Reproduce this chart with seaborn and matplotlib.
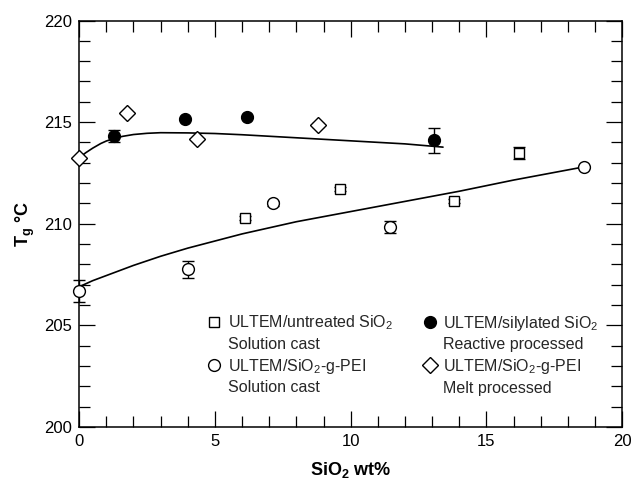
import numpy as np
import pandas as pd
import matplotlib
matplotlib.use("Agg")
import matplotlib.pyplot as plt
import matplotlib.ticker as ticker
from matplotlib.legend_handler import HandlerLine2D
from matplotlib.transforms import Affine2D
import seaborn as sns

sns.set_theme(style="ticks")
plt.rcParams["font.family"] = ["Liberation Sans", "DejaVu Sans"]
plt.rcParams["mathtext.fontset"] = "custom"
plt.rcParams["mathtext.rm"] = "Liberation Sans"
plt.rcParams["mathtext.bf"] = "Liberation Sans:bold"
plt.rcParams["mathtext.default"] = "regular"

# ULTEM / untreated SiO2, solution cast
untreated_x = [6.1, 9.6, 13.8, 16.2]
untreated_y = [210.3, 211.7, 211.1, 213.5]
untreated_err = [0.1, 0.1, 0.1, 0.3]

# ULTEM / SiO2-g-PEI, solution cast
gpei_sol_x = [0.0, 4.0, 7.15, 11.45, 18.6]
gpei_sol_y = [206.7, 207.75, 211.0, 209.85, 212.8]
gpei_sol_err = [0.55, 0.4, 0.12, 0.3, 0.05]

# ULTEM / silylated SiO2, reactive processed
silyl_x = [1.3, 3.9, 6.2, 13.05]
silyl_y = [214.3, 215.15, 215.25, 214.1]
silyl_err = [0.3, 0.05, 0.05, 0.6]

# ULTEM / SiO2-g-PEI, melt processed
gpei_melt_x = [0.0, 1.75, 4.35, 8.8]
gpei_melt_y = [213.25, 215.45, 214.15, 214.85]
gpei_melt_err = [0.05, 0.05, 0.05, 0.1]

# trend curves
upper_fit_x = [0, 0.25, 0.5, 0.8, 1.0, 1.3, 1.6, 2, 2.5, 3, 4, 5, 6, 8, 10, 12, 13.4]
upper_fit_y = [213.25, 213.5, 213.72, 213.95, 214.07, 214.2, 214.3, 214.39,
               214.45, 214.48, 214.47, 214.44, 214.38, 214.23, 214.08, 213.93, 213.77]
lower_fit_x = [0, 0.5, 1, 1.5, 2, 3, 4, 5, 6, 7, 8, 9, 10, 12, 14, 16, 18.6]
lower_fit_y = [206.9, 207.2, 207.45, 207.7, 207.95, 208.4, 208.8, 209.15,
               209.5, 209.8, 210.1, 210.35, 210.6, 211.1, 211.6, 212.15, 212.8]


class FirstLineHandler(HandlerLine2D):
    # put the legend marker level with the first line of a two-line label
    def create_artists(self, legend, orig_handle, xdescent, ydescent,
                       width, height, fontsize, trans):
        shift = Affine2D().translate(0, 0.72 * fontsize)
        return super().create_artists(legend, orig_handle, xdescent, ydescent,
                                      width, height, fontsize, shift + trans)


fig = plt.figure(figsize=(6.33, 4.86), dpi=100)
ax = fig.add_axes([0.125, 0.1214, 0.858, 0.8364])

fits = pd.concat([
    pd.DataFrame({"x": upper_fit_x, "y": upper_fit_y, "fit": "upper"}),
    pd.DataFrame({"x": lower_fit_x, "y": lower_fit_y, "fit": "lower"}),
])
sns.lineplot(data=fits, x="x", y="y", units="fit", estimator=None,
             color="black", linewidth=1.2, ax=ax, zorder=2, sort=False)

common = dict(color="black", ecolor="black", elinewidth=1.0, capsize=4.3,
              capthick=1.0, linestyle="none", markeredgewidth=1.0, zorder=3,
              clip_on=False)
h1 = ax.errorbar(untreated_x, untreated_y, yerr=untreated_err, fmt="s",
                 markersize=7.5, markerfacecolor="white", **common)
h2 = ax.errorbar(gpei_sol_x, gpei_sol_y, yerr=gpei_sol_err, fmt="o",
                 markersize=8.5, markerfacecolor="white", **common)
h3 = ax.errorbar(silyl_x, silyl_y, yerr=silyl_err, fmt="o",
                 markersize=8.5, markerfacecolor="black", **common)
h4 = ax.errorbar(gpei_melt_x, gpei_melt_y, yerr=gpei_melt_err, fmt="D",
                 markersize=8, markerfacecolor="white", **common)

labels = [
    "ULTEM/untreated SiO$_2$\nSolution cast",
    "ULTEM/SiO$_2$-g-PEI\nSolution cast",
    "ULTEM/silylated SiO$_2$\nReactive processed",
    "ULTEM/SiO$_2$-g-PEI\nMelt processed",
]
handles = [h1[0], h2[0], h3[0], h4[0]]
leg = ax.legend(handles, labels, ncol=2, frameon=False,
                loc="upper left", bbox_to_anchor=(0.237, 0.279), fontsize=11.5,
                handletextpad=0.45, columnspacing=1.9, labelspacing=0.3,
                handlelength=0.8, borderpad=0.0, borderaxespad=0.0,
                handler_map={h: FirstLineHandler() for h in handles})
for t in leg.get_texts():
    t.set_linespacing(1.38)

ax.set_xlim(0, 20)
ax.set_ylim(200, 220)
ax.xaxis.set_major_locator(ticker.MultipleLocator(5))
ax.xaxis.set_minor_locator(ticker.MultipleLocator(1))
ax.yaxis.set_major_locator(ticker.MultipleLocator(5))
ax.yaxis.set_minor_locator(ticker.MultipleLocator(1))
ax.tick_params(which="both", direction="in", top=True, right=True,
               color="black", labelsize=12, labelcolor="black", width=0.9)
ax.tick_params(which="major", length=11.5, pad=5)
ax.tick_params(which="minor", length=7.8)
for s in ax.spines.values():
    s.set_color("black")
    s.set_linewidth(1.1)

ax.set_xlabel("SiO$_\\mathbf{2}$ wt%", fontsize=13, fontweight="bold",
              color="black", labelpad=8)
ax.set_ylabel("T$_\\mathbf{g}$ °C", fontsize=13, fontweight="bold",
              color="black", labelpad=5)

fig.savefig("out.png", dpi=100)
